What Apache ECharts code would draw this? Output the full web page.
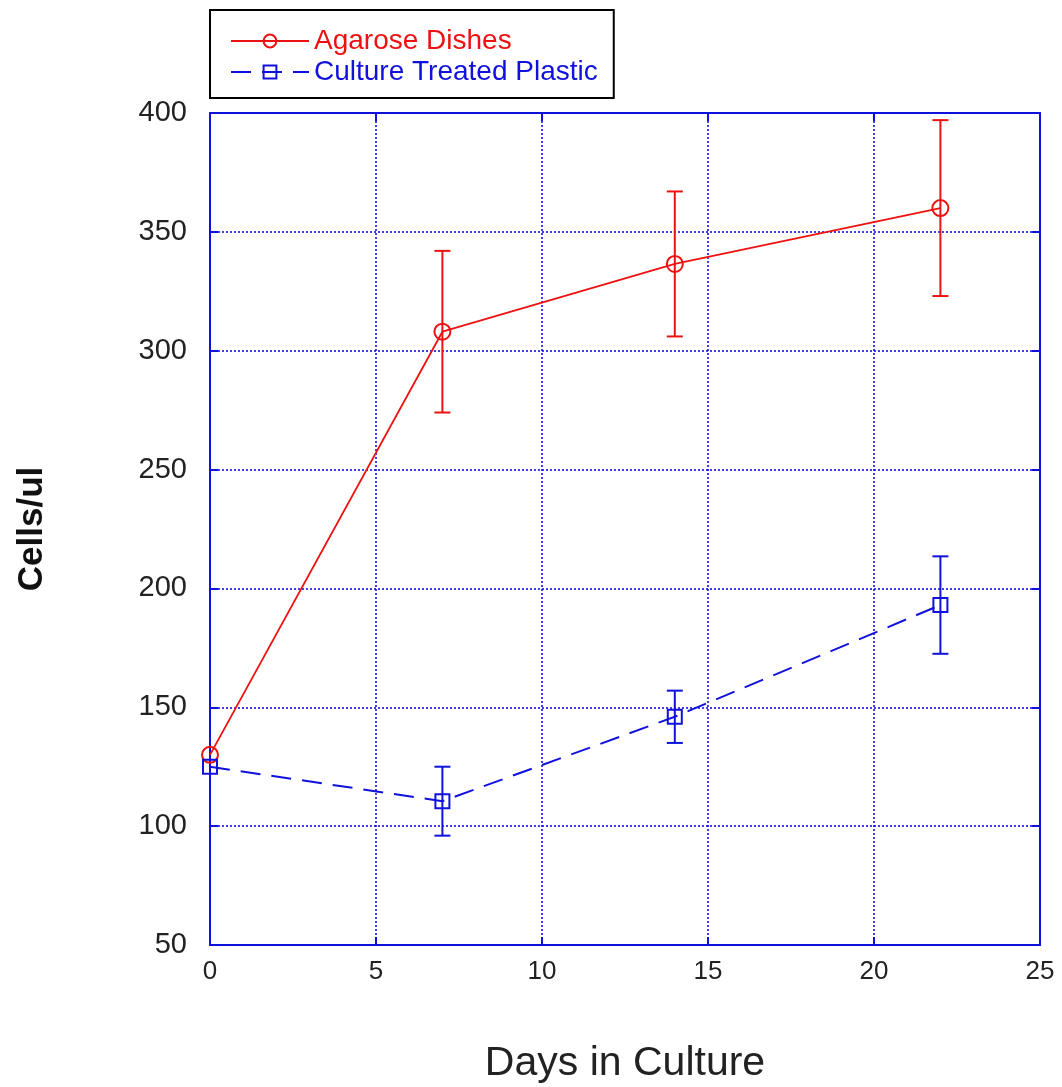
<!DOCTYPE html>
<html>
<head>
<meta charset="utf-8">
<script src="https://cdn.jsdelivr.net/npm/echarts@6/dist/echarts.min.js"></script>
<style>html,body{margin:0;padding:0;background:#fff;}#c{width:1062px;height:1087px;}</style>
</head>
<body>
<div id="c"></div>
<script>
const days = [0, 7, 14, 22];
const agarose = [130, 308, 336.5, 360];
const agaroseErr = [0, 34, 30.5, 37];
const plastic = [125, 110.5, 146, 193];
const plasticErr = [0, 14.5, 11, 20.5];
const xTicks = [0, 5, 10, 15, 20, 25];
const yTicks = [50, 100, 150, 200, 250, 300, 350, 400];

const RED = '#ee1111';
const BLUE = '#1111dd';
const FONT = '"Liberation Sans", Arial, Helvetica, sans-serif';

function errData(vals, errs) {
  return days.map((d, i) => [d, vals[i] - errs[i], vals[i] + errs[i]]).filter((r, i) => errs[i] > 0);
}
function errRender(color) {
  return function (params, api) {
    const x = api.value(0);
    const lo = api.coord([x, api.value(1)]);
    const hi = api.coord([x, api.value(2)]);
    const hw = 8;
    const style = { stroke: color, lineWidth: 2 };
    return {
      type: 'group',
      children: [
        { type: 'line', shape: { x1: lo[0], y1: lo[1], x2: hi[0], y2: hi[1] }, style },
        { type: 'line', shape: { x1: lo[0] - hw, y1: lo[1], x2: lo[0] + hw, y2: lo[1] }, style },
        { type: 'line', shape: { x1: hi[0] - hw, y1: hi[1], x2: hi[0] + hw, y2: hi[1] }, style }
      ]
    };
  };
}

function axisCommon() {
  return {
    axisLine: { show: true, onZero: false, lineStyle: { color: BLUE, width: 2 } },
    axisTick: { show: true, inside: true, length: 8, lineStyle: { color: BLUE, width: 2 } }
  };
}
const gridLine = { show: true, lineStyle: { color: BLUE, type: [2, 2], width: 1.6 } };

const chart = echarts.init(document.getElementById('c'), null, { renderer: 'canvas' });
chart.setOption({
  backgroundColor: '#fff',
  animation: false,
  textStyle: { fontFamily: FONT },
  grid: { left: 210, right: 22, top: 113, bottom: 142, containLabel: false, outerBoundsMode: 'none' },
  legend: {
    left: 210, top: 10,
    orient: 'vertical',
    padding: [17, 16, 12, 20],
    itemWidth: 78, itemHeight: 16, itemGap: 3,
    borderColor: '#000', borderWidth: 2,
    backgroundColor: '#fff',
    data: [
      { name: 'Agarose Dishes', textStyle: { color: RED } },
      { name: 'Culture Treated Plastic', textStyle: { color: BLUE } }
    ],
    textStyle: { fontSize: 28, fontFamily: FONT, lineHeight: 27 }
  },
  xAxis: [
    Object.assign({
      type: 'value', min: 0, max: 25, interval: 5, position: 'bottom',
      name: 'Days in Culture', nameLocation: 'middle', nameGap: 98,
      nameTextStyle: { fontSize: 41, color: '#222', fontFamily: FONT },
      axisLabel: { fontSize: 26, color: '#222', margin: 14, formatter: v => xTicks.includes(v) ? String(v) : '' },
      splitLine: gridLine
    }, axisCommon()),
    Object.assign({
      type: 'value', min: 0, max: 25, interval: 5, position: 'top',
      axisLabel: { show: false }, splitLine: { show: false }
    }, axisCommon())
  ],
  yAxis: [
    Object.assign({
      type: 'value', min: 50, max: 400, interval: 50, position: 'left',
      name: 'Cells/ul', nameLocation: 'middle', nameGap: 160,
      nameTextStyle: { fontSize: 35, fontWeight: 'bold', color: '#111', fontFamily: FONT },
      axisLabel: { fontSize: 29, color: '#222', margin: 23, formatter: v => yTicks.includes(v) ? String(v) : '' },
      splitLine: gridLine
    }, axisCommon()),
    Object.assign({
      type: 'value', min: 50, max: 400, interval: 50, position: 'right',
      axisLabel: { show: false }, splitLine: { show: false }
    }, axisCommon())
  ],
  series: [
    {
      name: 'Agarose Dishes', type: 'line',
      data: days.map((d, i) => [d, agarose[i]]),
      symbol: 'circle', symbolSize: 16,
      itemStyle: { color: 'rgba(255,255,255,0)', borderColor: RED, borderWidth: 2 },
      lineStyle: { color: RED, width: 1.8 },
      z: 3
    },
    {
      name: 'Culture Treated Plastic', type: 'line',
      data: days.map((d, i) => [d, plastic[i]]),
      symbol: 'rect', symbolSize: 14,
      itemStyle: { color: 'rgba(255,255,255,0)', borderColor: BLUE, borderWidth: 2 },
      lineStyle: { color: BLUE, width: 2, type: [20, 11] },
      z: 3
    },
    {
      name: 'agaroseErr', type: 'custom',
      data: errData(agarose, agaroseErr),
      renderItem: errRender(RED), z: 2, silent: true
    },
    {
      name: 'plasticErr', type: 'custom',
      data: errData(plastic, plasticErr),
      renderItem: errRender(BLUE), z: 2, silent: true
    }
  ]
});
</script>
</body>
</html>
